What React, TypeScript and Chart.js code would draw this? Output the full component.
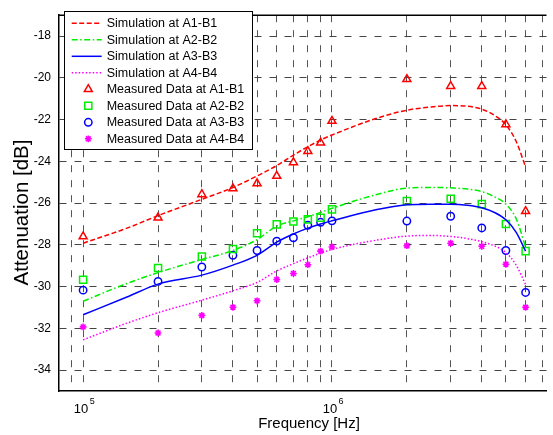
import React, { useEffect, useRef } from "react";
import { Chart, registerables } from "chart.js";
import { drawPoint } from "chart.js/helpers";

Chart.register(...registerables);

// ---------- data ----------
const simFreq = [1e5, 1.5e5, 2e5, 3e5, 4e5, 5e5, 6e5, 7e5, 8e5, 9e5, 1e6, 1.5e6, 2e6, 2.5e6, 3e6, 3.5e6, 4e6, 4.5e6, 5e6, 5.5e6, 6e6];
const simA1 = [-27.92, -27.2, -26.6, -25.82, -25.25, -24.7, -24.2, -23.7, -23.3, -22.98, -22.74, -21.95, -21.55, -21.4, -21.33, -21.36, -21.5, -21.8, -22.25, -23.05, -24.27];
const simA2 = [-30.7, -29.85, -29.33, -28.7, -28.27, -27.75, -27.1, -26.85, -26.65, -26.45, -26.25, -25.6, -25.28, -25.25, -25.27, -25.33, -25.45, -25.7, -26.05, -26.75, -28.1];
const simA3 = [-31.35, -30.5, -29.88, -29.45, -28.97, -28.5, -27.87, -27.48, -27.2, -27.0, -26.85, -26.32, -26.08, -26.05, -26.05, -26.1, -26.22, -26.45, -26.8, -27.4, -28.3];
const simA4 = [-32.55, -31.75, -31.25, -30.65, -30.2, -29.8, -29.25, -28.9, -28.62, -28.4, -28.22, -27.78, -27.58, -27.55, -27.6, -27.7, -27.85, -28.05, -28.37, -28.97, -29.9];

const measFreq = [1e5, 2e5, 3e5, 4e5, 5e5, 6e5, 7e5, 8e5, 9e5, 1e6, 2e6, 3e6, 4e6, 5e6, 6e6];
const measA1 = [-27.6, -26.7, -25.58, -25.3, -25.06, -24.7, -24.05, -23.52, -23.11, -22.07, -20.07, -20.4, -20.4, -22.23, -26.39];
const measA2 = [-29.67, -29.11, -28.56, -28.2, -27.44, -27.02, -26.88, -26.78, -26.7, -26.3, -25.9, -25.79, -26.05, -27.0, -28.3];
const measA3 = [-30.17, -29.75, -29.06, -28.5, -28.27, -27.82, -27.66, -27.06, -26.92, -26.85, -26.86, -26.63, -27.19, -28.27, -30.28];
const measA4 = [-31.93, -32.22, -31.38, -30.99, -30.68, -29.66, -29.37, -28.95, -28.3, -28.1, -28.04, -27.92, -28.07, -28.93, -30.99];

const simNames = ["Simulation at A1-B1", "Simulation at A2-B2", "Simulation at A3-B3", "Simulation at A4-B4"];
const measNames = ["Measured Data at A1-B1", "Measured Data at A2-B2", "Measured Data at A3-B3", "Measured Data at A4-B4"];

const yTickValues = [-34, -32, -30, -28, -26, -24, -22, -20, -18];
const xGridValues = [9e4, 1e5, 2e5, 3e5, 4e5, 5e5, 6e5, 7e5, 8e5, 9e5, 1e6, 2e6, 3e6, 4e6, 5e6, 6e6, 7e6];
const xLabelDecades = [5, 6];

const xLabel = "Frequency [Hz]";
const yLabel = "Attenuation [dB]";

// ---------- styles ----------
const FONT = "'Liberation Sans', Arial, Helvetica, sans-serif";
const colors = ["#ff0000", "#00ee00", "#0000ff", "#ff00ff"];
const dashes = [[5, 2.5], [6, 2.5, 1.5, 2.5], [], [1.5, 2]];
const markerStyles = ["triangle", "rect", "circle", "star"];
const markerRadius = [4.6, 5, 3.7, 3.4];
const markerBorder = [1.5, 1.5, 1.5, 1.6];

const toXY = (xs: number[], ys: number[]) => xs.map((x, i) => ({ x, y: ys[i] }));

const legendPlugin = {
  id: "matlabLegend",
  afterDatasetsDraw(chart: any) {
    const { ctx, chartArea: ca } = chart;
    ctx.save();
    // top border
    ctx.strokeStyle = "#000";
    ctx.lineWidth = 1.5;
    ctx.beginPath();
    ctx.moveTo(ca.left, ca.top);
    ctx.lineTo(ca.right, ca.top);
    ctx.stroke();

    // legend box
    const bx = 64.5, by = 11.5, bw = 188, bh = 138;
    ctx.fillStyle = "#fff";
    ctx.fillRect(bx, by, bw, bh);
    ctx.strokeStyle = "#000";
    ctx.lineWidth = 1;
    ctx.strokeRect(bx, by, bw, bh);

    const rowY0 = 23.3, rowDy = 16.5;
    ctx.font = `12.5px ${FONT}`;
    ctx.textBaseline = "middle";
    ctx.textAlign = "left";
    for (let i = 0; i < 4; i++) {
      const y = rowY0 + i * rowDy;
      ctx.strokeStyle = colors[i];
      ctx.lineWidth = 1.5;
      ctx.setLineDash(dashes[i]);
      ctx.beginPath();
      ctx.moveTo(71.7, y);
      ctx.lineTo(101.7, y);
      ctx.stroke();
      ctx.setLineDash([]);
      ctx.fillStyle = "#000";
      ctx.fillText(simNames[i], 106.7, y + 0.5);
    }
    for (let i = 0; i < 4; i++) {
      const y = rowY0 + (i + 4) * rowDy;
      ctx.strokeStyle = colors[i];
      ctx.fillStyle = "rgba(0,0,0,0)";
      ctx.lineWidth = markerBorder[i];
      drawPoint(ctx, { pointStyle: markerStyles[i], radius: markerRadius[i], borderWidth: markerBorder[i], rotation: 0 } as any, 88.3, y);
      ctx.fillStyle = "#000";
      ctx.fillText(measNames[i], 106.7, y + 0.5);
    }
    ctx.restore();
  },
  afterDraw(chart: any) {
    const { ctx, scales } = chart;
    ctx.save();
    ctx.fillStyle = "#000";
    // x tick labels 10^n
    for (const d of xLabelDecades) {
      const px = scales.x.getPixelForValue(Math.pow(10, d));
      ctx.font = `13px ${FONT}`;
      ctx.textAlign = "left";
      ctx.textBaseline = "alphabetic";
      const left = px - 9.3;
      ctx.fillText("10", left, 413);
      const w = ctx.measureText("10").width;
      ctx.font = `9px ${FONT}`;
      ctx.fillText(String(d), left + w + 1.5, 403.5);
    }
    // axis titles
    ctx.font = `15px ${FONT}`;
    ctx.textAlign = "center";
    ctx.textBaseline = "alphabetic";
    ctx.fillText(xLabel, 309, 428);
    ctx.save();
    ctx.font = `20.5px ${FONT}`;
    ctx.translate(28, 212.5);
    ctx.rotate(-Math.PI / 2);
    ctx.fillText(yLabel, 0, 0);
    ctx.restore();
    ctx.restore();
  },
};

export default function App() {
  const ref = useRef<HTMLCanvasElement | null>(null);
  useEffect(() => {
    if (!ref.current) return;
    const sims = [simA1, simA2, simA3, simA4];
    const meas = [measA1, measA2, measA3, measA4];
    const datasets: any[] = [];
    sims.forEach((s, i) => {
      datasets.push({
        label: simNames[i],
        data: toXY(simFreq, s),
        borderColor: colors[i],
        backgroundColor: colors[i],
        borderWidth: 1.5,
        borderDash: dashes[i],
        pointRadius: 0,
        cubicInterpolationMode: "monotone",
        fill: false,
      });
    });
    meas.forEach((m, i) => {
      datasets.push({
        label: measNames[i],
        data: toXY(measFreq, m),
        showLine: false,
        borderColor: colors[i],
        backgroundColor: "rgba(0,0,0,0)",
        pointStyle: markerStyles[i],
        pointRadius: markerRadius[i],
        pointBorderWidth: markerBorder[i],
        pointBorderColor: colors[i],
        pointBackgroundColor: "rgba(0,0,0,0)",
      });
    });
    const chart = new Chart(ref.current, {
      type: "line",
      data: { datasets },
      options: {
        animation: false,
        responsive: false,
        events: [],
        layout: { padding: { left: 0, right: 0, top: 6, bottom: 0 } },
        plugins: { legend: { display: false }, tooltip: { enabled: false } },
        scales: {
          x: {
            type: "logarithmic",
            min: 8e4,
            max: 7.28e6,
            afterBuildTicks: (s: any) => {
              s.ticks = xGridValues.map((v) => ({ value: v }));
            },
            afterFit: (s: any) => {
              s.height = 44;
            },
            ticks: { display: false },
            grid: { color: "#555", lineWidth: 1, drawTicks: false },
            border: { color: "#000", width: 1.5, dash: [7, 8] },
          },
          y: {
            type: "linear",
            min: -35,
            max: -17,
            afterBuildTicks: (s: any) => {
              s.ticks = yTickValues.map((v) => ({ value: v }));
            },
            afterFit: (s: any) => {
              s.width = 59;
            },
            ticks: {
              display: true,
              padding: 8,
              color: "#000",
              font: { family: FONT, size: 12 },
              callback: (v: any) => String(v),
            },
            grid: { color: "#444", lineWidth: 1, drawTicks: false },
            border: { color: "#000", width: 1.5, dash: [7, 8] },
          },
        },
      },
      plugins: [legendPlugin],
    });
    return () => chart.destroy();
  }, []);
  return (
    <div style={{ position: "absolute", left: 0, top: 0, width: 553, height: 435, background: "#fff" }}>
      <canvas ref={ref} width={553} height={435} style={{ display: "block" }} />
    </div>
  );
}
